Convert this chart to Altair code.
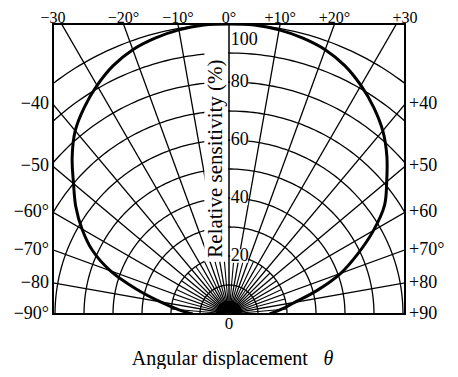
import altair as alt
import numpy as np
import pandas as pd

# ---------------- data ----------------
curve_angle = list(range(-90, 91, 5))          # degrees
curve_value = [12.5, 17.5, 24, 33, 43.5, 52, 58.5, 64.5, 70, 76.5, 82.5, 87, 91, 94.5, 97, 98.5, 99.5, 100,
               100,
               100, 99.5, 98.5, 97, 94.5, 91, 87, 82.5, 77, 71, 65.5, 57.5, 49, 41, 31.5, 23, 18, 14]

ring_values = [10, 20, 30, 40, 50, 60, 70, 80, 90, 100]
spoke_angles = [a for a in range(-80, 81, 10) if a != 0]
fine_spoke_angles = [a for a in range(-85, 86, 5) if a % 10 != 0]
dense_spoke_angles = [a / 2 for a in range(-175, 176, 5)]

top_angles = [-30, -20, -10, 0, 10, 20, 30]
top_texts = ["\u221230", "\u221220\u00b0", "\u221210\u00b0", "0\u00b0", "+10\u00b0", "+20\u00b0", "+30"]
side_angles = [40, 50, 60, 70, 80, 90]
left_texts = ["\u221240", "\u221250", "\u221260\u00b0", "\u221270\u00b0", "\u221280", "\u221290\u00b0"]
right_texts = ["+40", "+50", "+60", "+70\u00b0", "+80", "+90"]
radial_ticks = [100, 80, 60, 40, 20]
radial_tick_texts = ["100", "80", "60", "40", "20"]

X_MAX = 60.7   # half width of the frame in % units
FONT = "Liberation Serif"

xs = alt.Scale(domain=[-X_MAX, X_MAX], nice=False, zero=False)
ys = alt.Scale(domain=[0, 100], nice=False, zero=False)


def X(f="x"):
    return alt.X(f"{f}:Q", scale=xs, axis=None)


def Y(f="y"):
    return alt.Y(f"{f}:Q", scale=ys, axis=None)


def polar(r, a):
    t = np.radians(a)
    return r * np.sin(t), r * np.cos(t)


# rings
rows = []
for r in ring_values:
    for i, a in enumerate(np.linspace(-90, 90, 181)):
        x, y = polar(r, a)
        rows.append({"g": r, "i": i, "x": x, "y": y})
ring_df = pd.DataFrame(rows)


def spokes(angles, r0, r1):
    rr = []
    for a in angles:
        for i, r in enumerate([r0, r1]):
            x, y = polar(r, a)
            rr.append({"g": a, "i": i, "x": x, "y": y})
    return pd.DataFrame(rr)


spoke_df = spokes(spoke_angles, 0, 250)
fine_df = spokes(fine_spoke_angles, 0, 20)
dense_df = spokes(dense_spoke_angles, 0, 4.5)

cx, cy = polar(np.array(curve_value, dtype=float), np.array(curve_angle, dtype=float))
curve_df = pd.DataFrame({"i": range(len(curve_angle)), "x": cx, "y": cy})

rings = alt.Chart(ring_df).mark_line(clip=True, color="black", strokeWidth=1.3).encode(
    x=X(), y=Y(), detail="g:N", order="i:Q")
spk = alt.Chart(spoke_df).mark_line(clip=True, color="black", strokeWidth=1.3).encode(
    x=X(), y=Y(), detail="g:N", order="i:Q")
fine = alt.Chart(fine_df).mark_line(clip=True, color="black", strokeWidth=1.1).encode(
    x=X(), y=Y(), detail="g:N", order="i:Q")
dense = alt.Chart(dense_df).mark_line(clip=True, color="black", strokeWidth=1.6).encode(
    x=X(), y=Y(), detail="g:N", order="i:Q")

# white backgrounds behind the radial-axis title and tick labels
band_df = pd.DataFrame({"x1": [-8.5], "x2": [-0.3], "y1": [18], "y2": [92]})
label_bg_df = pd.DataFrame({"x1": [0.4] * 4, "x2": [6.6] * 4,
                            "y1": [v - 2.3 for v in radial_ticks[1:]],
                            "y2": [v + 2.3 for v in radial_ticks[1:]]})
band = alt.Chart(band_df).mark_rect(color="white").encode(
    x=X("x1"), x2="x2:Q", y=Y("y1"), y2="y2:Q")
label_bg = alt.Chart(label_bg_df).mark_rect(color="white").encode(
    x=X("x1"), x2="x2:Q", y=Y("y1"), y2="y2:Q")

axis_df = pd.DataFrame({"x": [0], "y": [0], "y2": [100]})
axis_line = alt.Chart(axis_df).mark_rule(color="black", strokeWidth=1.5).encode(
    x=X(), y=Y(), y2="y2:Q")

curve = alt.Chart(curve_df).mark_line(clip=True, color="black", strokeWidth=3,
                                      interpolate="catmull-rom").encode(
    x=X(), y=Y(), order="i:Q")

# labels
top_df = pd.DataFrame({
    "label": top_texts,
    "x": [np.sign(a) * X_MAX if abs(a) >= 30 else 100 * np.tan(np.radians(a)) for a in top_angles],
    "y": [100] * len(top_angles)})
top_lbl = alt.Chart(top_df).mark_text(font=FONT, fontSize=16, align="center",
                                      baseline="alphabetic", dy=-1).encode(
    x=X(), y=Y(), text="label:N")

side_y = [X_MAX / np.tan(np.radians(a)) if a < 90 else 0 for a in side_angles]
left_df = pd.DataFrame({"label": left_texts, "x": [-X_MAX] * len(side_angles), "y": side_y})
right_df = pd.DataFrame({"label": right_texts, "x": [X_MAX] * len(side_angles), "y": side_y})
left_lbl = alt.Chart(left_df).mark_text(font=FONT, fontSize=18, align="right",
                                        baseline="middle", dx=-4).encode(
    x=X(), y=Y(), text="label:N")
right_lbl = alt.Chart(right_df).mark_text(font=FONT, fontSize=18, align="left",
                                          baseline="middle", dx=4).encode(
    x=X(), y=Y(), text="label:N")

rt_df = pd.DataFrame({"label": radial_tick_texts, "x": [0.6] * 5,
                      "y": [94.5 if v == 100 else v for v in radial_ticks]})
rt_lbl = alt.Chart(rt_df).mark_text(font=FONT, fontSize=18, align="left",
                                    baseline="middle").encode(
    x=X(), y=Y(), text="label:N")

zero_df = pd.DataFrame({"label": ["0"], "x": [0], "y": [0]})
zero_lbl = alt.Chart(zero_df).mark_text(font=FONT, fontSize=17, align="center",
                                        baseline="top", dy=2).encode(
    x=X(), y=Y(), text="label:N")

ytitle_df = pd.DataFrame({"label": ["Relative sensitivity (%)"], "x": [-4.6], "y": [53.6]})
ytitle = alt.Chart(ytitle_df).mark_text(font=FONT, fontSize=21, angle=270, align="center",
                                        baseline="middle").encode(
    x=X(), y=Y(), text="label:N")

xtitle_df = pd.DataFrame({"label": ["Angular displacement"], "x": [27.2], "y": [-17.5]})
xtitle = alt.Chart(xtitle_df).mark_text(font=FONT, fontSize=20, align="right",
                                        baseline="alphabetic").encode(
    x=X(), y=Y(), text="label:N")
theta_df = pd.DataFrame({"label": ["\u03b8"], "x": [34.3], "y": [-17.5]})
theta = alt.Chart(theta_df).mark_text(font=FONT, fontSize=20, fontStyle="italic", align="center",
                                      baseline="alphabetic").encode(
    x=X(), y=Y(), text="label:N")

chart = alt.layer(
    rings, spk, fine, dense, band, label_bg, axis_line, curve,
    top_lbl, left_lbl, right_lbl, rt_lbl, zero_lbl, ytitle, xtitle, theta
).properties(
    width=352, height=290,
    padding={"left": 45, "top": 16, "right": 45, "bottom": 55},
    autosize=alt.AutoSizeParams(type="none"),
).configure_view(stroke="black", strokeWidth=2)

chart.save("out.html", embed_options={"renderer": "svg", "actions": False})
